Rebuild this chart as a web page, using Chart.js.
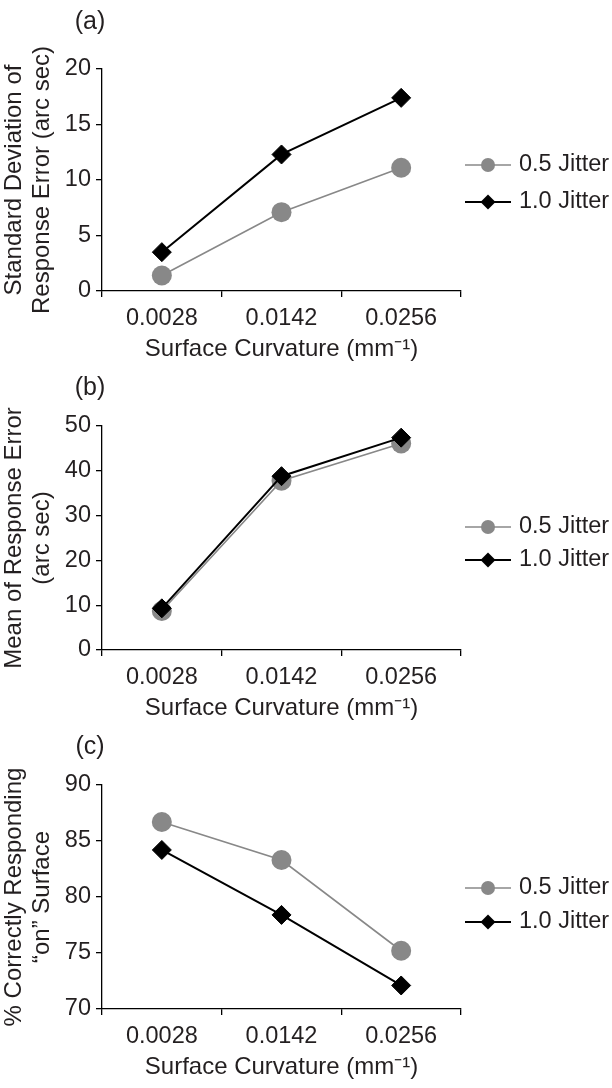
<!DOCTYPE html>
<html><head><meta charset="utf-8">
<script src="https://cdn.jsdelivr.net/npm/chart.js@4.4.1/dist/chart.umd.min.js"></script>
<style>
html,body{margin:0;padding:0;background:#fff;}
#wrap{position:relative;width:612px;height:1088px;overflow:hidden;background:#fff;}
canvas{position:absolute;left:0;}
</style></head>
<body><div id="wrap">
<canvas id="ca" width="612" height="366" style="top:0px"></canvas>
<canvas id="cb" width="612" height="360" style="top:366px"></canvas>
<canvas id="cc" width="612" height="362" style="top:726px"></canvas>
</div>
<script>
// ---- data ----
const categories = ['0.0028', '0.0142', '0.0256'];
const seriesNames = ['0.5 Jitter', '1.0 Jitter'];
const sdJitter05 = [1.4, 7.1, 11.1];
const sdJitter10 = [3.5, 12.3, 17.4];
const meanJitter05 = [8.7, 37.8, 46.1];
const meanJitter10 = [9.3, 38.8, 47.4];
const pctJitter05 = [86.7, 83.3, 75.2];
const pctJitter10 = [84.2, 78.4, 72.1];
const sdTicks = [0, 5, 10, 15, 20];
const meanTicks = [0, 10, 20, 30, 40, 50];
const pctTicks = [70, 75, 80, 85, 90];
const panelLabels = ['(a)', '(b)', '(c)'];
const xTitle = 'Surface Curvature (mm\u207B\u00B9)';
const yTitleA = ['Standard Deviation of', 'Response Error (arc sec)'];
const yTitleB = ['Mean of Response Error', '(arc sec)'];
const yTitleC = ['% Correctly Responding', '\u201Con\u201D Surface'];

// ---- style ----
const FONT = '"Liberation Sans", Arial, Helvetica, sans-serif';
const TEXT = '#231f20';
const GRAY = '#888888';

const overlay = {
  id: 'overlay',
  afterDraw(chart, args, o) {
    const ctx = chart.ctx;
    const area = chart.chartArea;
    ctx.save();
    ctx.fillStyle = TEXT;
    ctx.font = '25px ' + FONT;
    ctx.textAlign = 'center';
    ctx.textBaseline = 'middle';
    ctx.fillText(o.label, o.labelX, o.labelY);
    const cy = (area.top + area.bottom) / 2;
    chart.data.datasets.forEach((ds, i) => {
      const y = cy + o.legendOffsets[i];
      const x0 = area.right + 4, x1 = area.right + 50, xm = area.right + 27;
      ctx.strokeStyle = ds.borderColor;
      ctx.lineWidth = ds.borderWidth;
      ctx.beginPath(); ctx.moveTo(x0, y); ctx.lineTo(x1, y); ctx.stroke();
      ctx.fillStyle = ds.backgroundColor;
      ctx.strokeStyle = ds.backgroundColor;
      const r = ds.pointStyle === 'circle' ? 7 : 7.5;
      if (Chart.helpers && Chart.helpers.drawPoint) {
        Chart.helpers.drawPoint(ctx, {pointStyle: ds.pointStyle, radius: r, rotation: 0, borderWidth: 0}, xm, y);
      } else {
        ctx.beginPath();
        if (ds.pointStyle === 'circle') ctx.arc(xm, y, r, 0, Math.PI * 2);
        else { ctx.moveTo(xm - r, y); ctx.lineTo(xm, y - r); ctx.lineTo(xm + r, y); ctx.lineTo(xm, y + r); ctx.closePath(); }
        ctx.fill();
      }
      ctx.fillStyle = TEXT;
      ctx.textAlign = 'left';
      ctx.font = '23.5px ' + FONT;
      ctx.fillText(ds.label, area.right + 58, y);
    });
    ctx.restore();
  }
};

function makePanel(id, label, yTitle, d05, d10, yTicks, L) {
  const XH = 75;
  new Chart(document.getElementById(id), {
    type: 'line',
    data: {
      labels: categories,
      datasets: [
        {label: seriesNames[0], data: d05, borderColor: GRAY, backgroundColor: GRAY, borderWidth: 1.6,
         pointStyle: 'circle', pointRadius: 10, pointHoverRadius: 10, pointBorderWidth: 0, order: 1, tension: 0, clip: false},
        {label: seriesNames[1], data: d10, borderColor: '#000', backgroundColor: '#000', borderWidth: 2,
         pointStyle: 'rectRot', pointRadius: 9.5, pointHoverRadius: 9.5, pointBorderWidth: 1, order: 0, tension: 0, clip: false}
      ]
    },
    options: {
      responsive: false, animation: false, devicePixelRatio: 1, events: [],
      layout: {padding: {top: L.top, right: 151, bottom: L.h - L.axis - XH, left: 0}},
      plugins: {
        legend: {display: false}, title: {display: false}, tooltip: {enabled: false},
        overlay: {label: label, labelX: 90, labelY: L.labelY, legendOffsets: L.legend}
      },
      scales: {
        x: {
          type: 'category', offset: true,
          grid: {display: true, drawOnChartArea: false, drawTicks: true, tickLength: 6, offset: true, color: '#000', lineWidth: 1.3},
          border: {display: true, color: '#000', width: 1.3},
          ticks: {font: {family: FONT, size: 23.5}, color: TEXT, padding: 7, maxRotation: 0, autoSkip: false},
          title: {display: true, text: xTitle, font: {family: FONT, size: 24, lineHeight: 1.2}, color: TEXT, padding: {top: 0, bottom: 2}},
          afterFit(s) { s.height = XH; }
        },
        y: {
          min: yTicks[0], max: yTicks[yTicks.length - 1],
          grid: {display: true, drawOnChartArea: false, drawTicks: true, tickLength: 6, color: '#000', lineWidth: 1.3},
          border: {display: true, color: '#000', width: 1.3},
          ticks: {stepSize: yTicks[1] - yTicks[0], font: {family: FONT, size: 23.5}, color: TEXT, padding: 5},
          title: {display: true, text: yTitle, font: {family: FONT, size: 24, lineHeight: '28px'}, color: TEXT, padding: 0},
          afterFit(s) { s.width = 102; }
        }
      }
    },
    plugins: [overlay]
  });
}

makePanel('ca', panelLabels[0], yTitleA, sdJitter05, sdJitter10, sdTicks, {h: 366, top: 69, axis: 291, labelY: 22, legend: [-15, 22]});
makePanel('cb', panelLabels[1], yTitleB, meanJitter05, meanJitter10, meanTicks, {h: 360, top: 60, axis: 284, labelY: 22, legend: [-11, 22]});
makePanel('cc', panelLabels[2], yTitleC, pctJitter05, pctJitter10, pctTicks, {h: 362, top: 59, axis: 283, labelY: 21, legend: [-9, 25]});
</script>
</body></html>
